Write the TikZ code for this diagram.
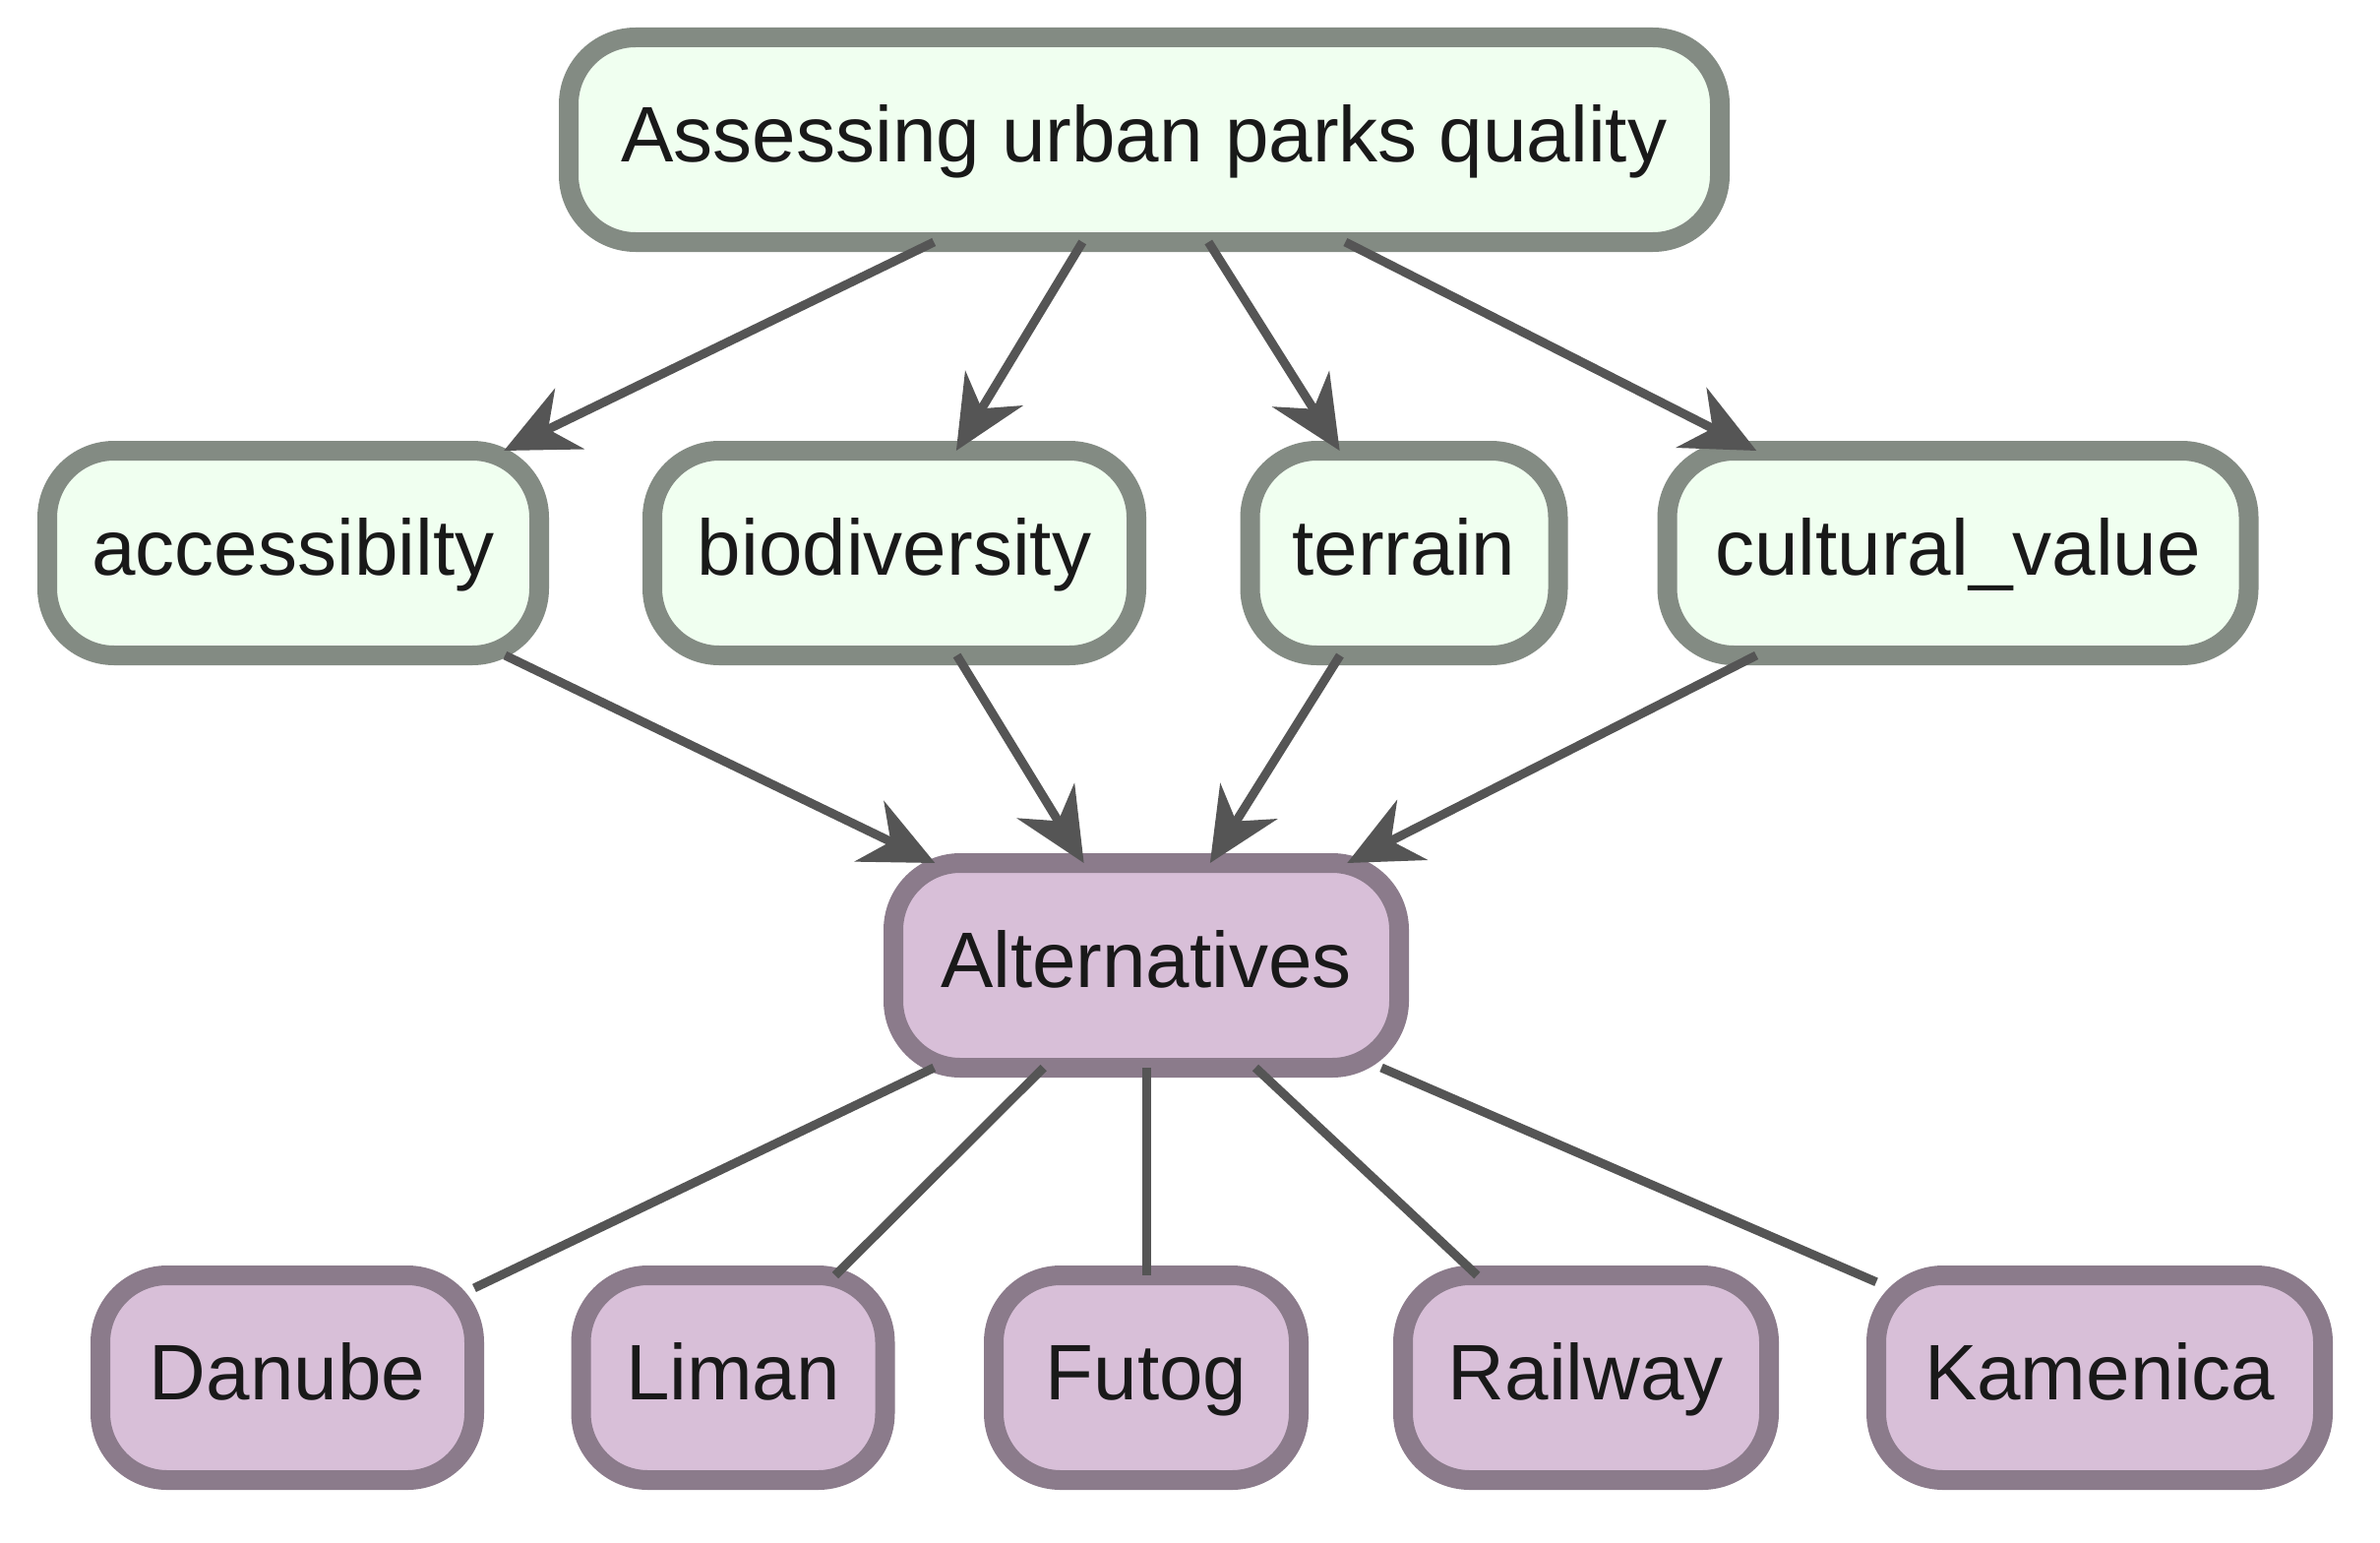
\documentclass[tikz,border=0pt]{standalone}
\usepackage{fontspec}
\setmainfont{Liberation Sans}
\usetikzlibrary{arrows.meta}
\definecolor{gfill}{HTML}{F0FFF0}
\definecolor{gline}{HTML}{838B83}
\definecolor{pfill}{HTML}{D8BFD8}
\definecolor{pline}{HTML}{8B7B8B}
\definecolor{edgec}{HTML}{555555}
\begin{document}
\begin{tikzpicture}[x=1pt,y=-1pt,
  box/.style={draw, line width=20pt, rounded corners=68pt, minimum height=208pt, inner sep=0pt, outer sep=0pt, text height=60pt, text depth=15pt, font=\fontsize{80}{96}\selectfont, text=black!90},
  crit/.style={box, fill=gfill, draw=gline},
  alt/.style={box, fill=pfill, draw=pline},
  arr/.style={draw=edgec, line width=9pt, -{Stealth[length=74pt,width=68pt,inset=24pt]}},
  lnk/.style={draw=edgec, line width=9pt}]
\useasboundingbox (0,0) rectangle (2419,1568);
\node[crit, minimum width=1170pt] (top) at (1163,142) {Assessing urban parks quality};
\node[crit, minimum width=500pt] (acc) at (298,562) {accessibilty};
\node[crit, minimum width=492pt] (bio) at (909,562) {biodiversity};
\node[crit, minimum width=313pt] (ter) at (1427,562) {terrain};
\node[crit, minimum width=591pt] (cul) at (1990,562) {cultural\_value};
\node[alt, minimum width=514pt] (alt) at (1165,981) {Alternatives};
\node[alt, minimum width=380pt] (dan) at (292,1400) {Danube};
\node[alt, minimum width=309pt] (lim) at (745,1400) {Liman};
\node[alt, minimum width=310pt] (fut) at (1165,1400) {Futog};
\node[alt, minimum width=372pt] (rai) at (1612,1400) {Railway};
\node[alt, minimum width=454pt] (kam) at (2134,1400) {Kamenica};
\draw[arr] (top) -- (acc);
\draw[arr] (top) -- (bio);
\draw[arr] (top) -- (ter);
\draw[arr] (top) -- (cul);
\draw[arr] (acc) -- (alt);
\draw[arr] (bio) -- (alt);
\draw[arr] (ter) -- (alt);
\draw[arr] (cul) -- (alt);
\draw[lnk] (alt) -- (dan);
\draw[lnk] (alt) -- (lim);
\draw[lnk] (alt) -- (fut);
\draw[lnk] (alt) -- (rai);
\draw[lnk] (alt) -- (kam);
\end{tikzpicture}
\end{document}
